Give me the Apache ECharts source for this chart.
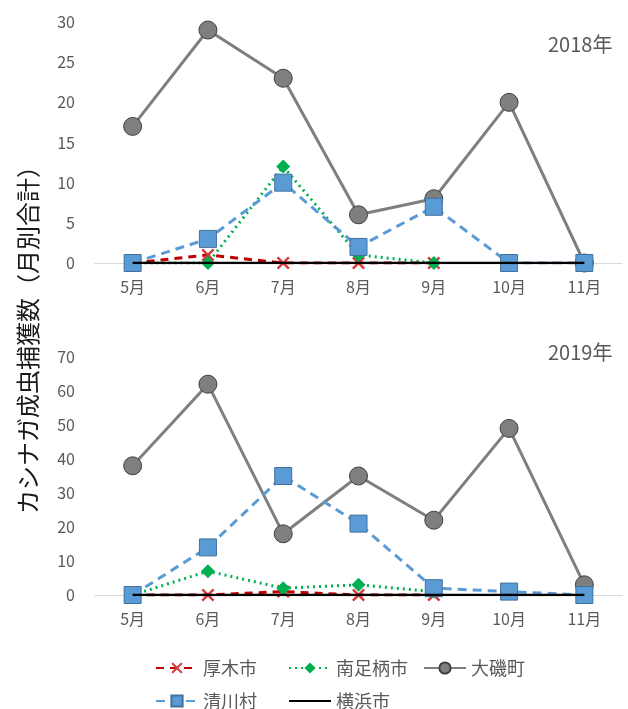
<!DOCTYPE html>
<html>
<head>
<meta charset="utf-8">
<script src="https://cdn.jsdelivr.net/npm/echarts@6/dist/echarts.min.js"></script>
<style>
html,body{margin:0;padding:0;background:#fff;}
#chart{width:628px;height:709px;}
</style>
</head>
<body>
<div id="chart"></div>
<script>
const months = ['5月','6月','7月','8月','9月','10月','11月'];
const seriesNames = ['厚木市','南足柄市','大磯町','清川村','横浜市'];
const yearLabels = ['2018年','2019年'];
const yTitle = 'カシナガ成虫捕獲数（月別合計）';

// 2018
const atsugi2018 = [0, 1, 0, 0, 0, null, null];
const minamiashigara2018 = [0, 0, 12, 1, 0, null, null];
const oiso2018 = [17, 29, 23, 6, 8, 20, 0];
const kiyokawa2018 = [0, 3, 10, 2, 7, 0, 0];
const yokohama2018 = [0, 0, 0, 0, 0, 0, 0];

// 2019
const atsugi2019 = [0, 0, 1, 0, 0, null, null];
const minamiashigara2019 = [0, 7, 2, 3, 1, null, null];
const oiso2019 = [38, 62, 18, 35, 22, 49, 3];
const kiyokawa2019 = [0, 14, 35, 21, 2, 1, 0];
const yokohama2019 = [0, 0, 0, 0, 0, 0, 0];

const yMax2018 = 30, yStep2018 = 5;
const yMax2019 = 70, yStep2019 = 10;

const FONT = "'Noto Sans CJK JP', 'Noto Sans', sans-serif";
const labelColor = '#595959';
const xPath = 'path://M0,1.3L1.3,0L5,3.7L8.7,0L10,1.3L6.3,5L10,8.7L8.7,10L5,6.3L1.3,10L0,8.7L3.7,5Z';

const styles = {
  '厚木市': {color:'#C00000', lineStyle:{color:'#C00000', width:3, type:[8,6]}, symbol:xPath, symbolSize:13, itemStyle:{color:'#D43A3A'}},
  '南足柄市': {color:'#00B050', lineStyle:{color:'#00B050', width:3, type:[2,4]}, symbol:'diamond', symbolSize:14, itemStyle:{color:'#00B050'}},
  '大磯町': {color:'#7F7F7F', lineStyle:{color:'#7F7F7F', width:3, type:'solid'}, symbol:'circle', symbolSize:18, itemStyle:{color:'#7F7F7F', borderColor:'#404040', borderWidth:1}},
  '清川村': {color:'#5B9BD5', lineStyle:{color:'#5B9BD5', width:3, type:[9,6]}, symbol:'rect', symbolSize:17, itemStyle:{color:'#5B9BD5', borderColor:'#41719C', borderWidth:1}},
  '横浜市': {color:'#000000', lineStyle:{color:'#000000', width:2.5, type:'solid'}, symbol:'none', symbolSize:0, itemStyle:{color:'#000000'}}
};

const data2018 = [atsugi2018, minamiashigara2018, oiso2018, kiyokawa2018, yokohama2018];
const data2019 = [atsugi2019, minamiashigara2019, oiso2019, kiyokawa2019, yokohama2019];

function makeSeries(dataArr, idx) {
  return seriesNames.map((name, i) => {
    const s = styles[name];
    return {
      name: name,
      type: 'line',
      xAxisIndex: idx,
      yAxisIndex: idx,
      data: dataArr[i],
      symbol: s.symbol,
      symbolSize: s.symbolSize,
      showSymbol: s.symbol !== 'none',
      lineStyle: s.lineStyle,
      itemStyle: s.itemStyle,
      color: s.color,
      connectNulls: false,
      animation: false,
      z: 2 + i,
      emphasis: {disabled: true}
    };
  });
}

const xAxisCommon = {
  type: 'category',
  data: months,
  boundaryGap: true,
  axisLine: {show: true, lineStyle: {color: '#D9D9D9', width: 1}},
  axisTick: {show: false},
  axisLabel: {color: labelColor, fontSize: 16, fontFamily: FONT, margin: 16}
};
const yAxisCommon = {
  type: 'value',
  min: 0,
  axisLine: {show: false},
  axisTick: {show: false},
  splitLine: {show: false},
  axisLabel: {color: labelColor, fontSize: 16, fontFamily: FONT, margin: 20}
};

const legendPos = [
  {left: 150, top: 654}, {left: 283, top: 654}, {left: 418, top: 654},
  {left: 150, top: 687}, {left: 283, top: 687}
];

const chart = echarts.init(document.getElementById('chart'), null, {renderer: 'canvas'});
chart.setOption({
  backgroundColor: '#ffffff',
  animation: false,
  grid: [
    {left: 95, width: 527, top: 22, height: 241},
    {left: 95, width: 527, top: 357, height: 238}
  ],
  xAxis: [
    Object.assign({gridIndex: 0}, xAxisCommon),
    Object.assign({gridIndex: 1}, xAxisCommon)
  ],
  yAxis: [
    Object.assign({gridIndex: 0, max: yMax2018, interval: yStep2018}, yAxisCommon),
    Object.assign({gridIndex: 1, max: yMax2019, interval: yStep2019}, yAxisCommon)
  ],
  legend: seriesNames.map((name, i) => {
    const lg = {
      data: [name],
      left: legendPos[i].left,
      top: legendPos[i].top,
      itemWidth: 42,
      itemHeight: 14,
      itemGap: 0,
      selectedMode: false,
      textStyle: {color: labelColor, fontSize: 18, fontFamily: FONT}
    };
    if (styles[name].symbol === 'none') lg.itemStyle = {opacity: 0};
    return lg;
  }),
  graphic: [
    {type: 'text', left: 548, top: 34, style: {text: yearLabels[0], fill: labelColor, font: '20px ' + FONT}},
    {type: 'text', left: 548, top: 342, style: {text: yearLabels[1], fill: labelColor, font: '20px ' + FONT}},
    {type: 'text', x: 28, y: 334, rotation: Math.PI / 2,
     style: {text: yTitle, fill: '#1A1A1A', font: '24px ' + FONT, align: 'center', verticalAlign: 'middle'}}
  ],
  series: makeSeries(data2018, 0).concat(makeSeries(data2019, 1))
});
</script>
</body>
</html>
